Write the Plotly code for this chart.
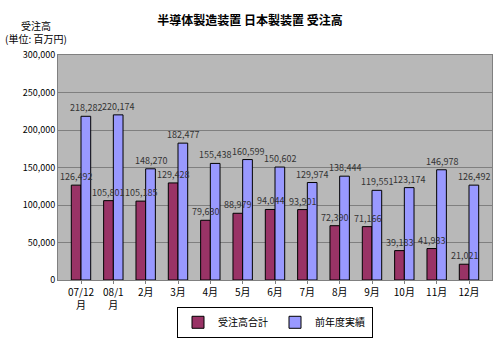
import plotly.graph_objects as go

categories = ["07/12<br>月", "08/1<br>月", "2月", "3月", "4月", "5月", "6月", "7月", "8月", "9月", "10月", "11月", "12月"]
orders = [126492, 105801, 105185, 129428, 79630, 88979, 94044, 93901, 72390, 71166, 39183, 41933, 21021]
prev_year = [218282, 220174, 148270, 182477, 155438, 160599, 150602, 129974, 138444, 119551, 123174, 146978, 126492]
series_names = ["受注高合計", "前年度実績"]
tick_vals = [0, 50000, 100000, 150000, 200000, 250000, 300000]
tick_text = ["0", "50,000", "100,000", "150,000", "200,000", "250,000", "300,000"]

FONT = "Noto Sans CJK JP, sans-serif"

fig = go.Figure()
fig.add_trace(go.Bar(
    x=categories, y=orders, name=series_names[0],
    marker=dict(color="#993366", line=dict(color="#000000", width=1)),
))
fig.add_trace(go.Bar(
    x=categories, y=prev_year, name=series_names[1],
    marker=dict(color="#9999FF", line=dict(color="#000000", width=1)),
))

# data labels drawn on top of all bars
for series, shift in ((orders, -5), (prev_year, 5)):
    for c, v in zip(categories, series):
        fig.add_annotation(x=c, y=v, text=f"{v:,}", showarrow=False,
                           xanchor="center", yanchor="bottom", xshift=shift, yshift=0,
                           font=dict(size=9, color="#333333", family=FONT))

fig.update_layout(
    width=500, height=339,
    margin=dict(l=58, r=8, t=55, b=59, autoexpand=False),
    paper_bgcolor="white", plot_bgcolor="#B8B8B8",
    barmode="group", bargap=0.4, bargroupgap=0,
    font=dict(family=FONT, size=10, color="#000000"),
    title=dict(text="<b>半導体製造装置 日本製装置 受注高</b>", x=0.5, xanchor="center",
               y=0.94, yanchor="middle", font=dict(size=12, family=FONT)),
    showlegend=True,
    legend=dict(orientation="h", x=0.5, xanchor="center", yref="container",
                y=0.095, yanchor="top",
                bordercolor="#000000", borderwidth=1, bgcolor="white",
                font=dict(size=10, family=FONT), itemwidth=30, tracegroupgap=0,
                entrywidth=52, entrywidthmode="pixels"),
)
fig.update_xaxes(showline=True, linecolor="#808080", linewidth=1, ticks="outside",
                 ticklen=3, tickcolor="#808080", tickfont=dict(size=10),
                 mirror=True)
fig.update_yaxes(range=[0, 300000], tickvals=tick_vals, ticktext=tick_text,
                 showgrid=True, gridcolor="#7F7F7F", gridwidth=1,
                 showline=True, linecolor="#808080", mirror=True,
                 tickfont=dict(size=9), zeroline=False)
fig.add_annotation(text="受注高<br>(単位: 百万円)", xref="paper", yref="paper",
                   x=-0.05, y=1.03, xanchor="center", yanchor="bottom",
                   showarrow=False, font=dict(size=10, family=FONT), align="center")

fig.write_html("out.html")
